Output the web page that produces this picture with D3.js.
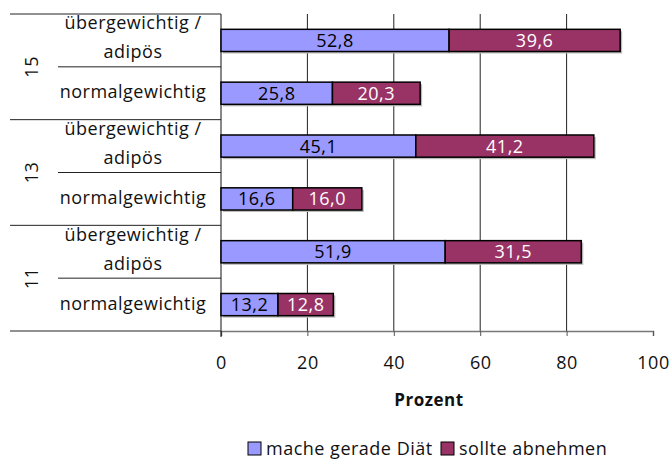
<!DOCTYPE html>
<html>
<head>
<meta charset="utf-8">
<script src="https://cdn.jsdelivr.net/npm/d3@7"></script>
<style>
  body { margin: 0; background: #fff; }
  text { font-family: "Open Sans", sans-serif; letter-spacing: 0.5px; }
</style>
</head>
<body>
<div id="dataviz"></div>
<script>
// data, top group first
var ages = ["15", "13", "11"];
var weightClasses = ["übergewichtig / adipös", "normalgewichtig"];
var seriesNames = ["mache gerade Diät", "sollte abnehmen"];
var diaet = [52.8, 25.8, 45.1, 16.6, 51.9, 13.2];
var abnehmen = [39.6, 20.3, 41.2, 16.0, 31.5, 12.8];
var xTicks = [0, 20, 40, 60, 80, 100];

var colors = ["#9999ff", "#993366"];
var textColors = ["#000", "#fff"];

var width = 672, height = 459;
var margin = {top: 14, left: 221, right: 19, bottom: 128};
var innerW = width - margin.left - margin.right;
var innerH = height - margin.top - margin.bottom;
var fs = 18;

var svg = d3.select("#dataviz")
  .append("svg")
    .attr("width", width)
    .attr("height", height);

var g = svg.append("g")
  .attr("transform", "translate(" + margin.left + "," + margin.top + ")");

// build rows
var rows = [];
ages.forEach(function(a, i) {
  weightClasses.forEach(function(w, j) {
    var k = i * 2 + j;
    rows.push({key: a + "|" + w, age: a, cls: w, vals: [diaet[k], abnehmen[k]]});
  });
});

var x = d3.scaleLinear().domain([0, 100]).range([0, innerW]);
var y = d3.scaleBand()
  .domain(rows.map(function(d) { return d.key; }))
  .range([0, innerH])
  .paddingInner(0.58)
  .paddingOuter(0.29);

var step = y.step();

// gridlines (not at 0, not at 100)
g.selectAll(".grid")
  .data(xTicks.filter(function(t) { return t > 0 && t < 100; }))
  .enter().append("line")
    .attr("x1", function(d) { return x(d); })
    .attr("x2", function(d) { return x(d); })
    .attr("y1", 0)
    .attr("y2", innerH)
    .attr("stroke", "#222")
    .attr("stroke-width", 1);

// x axis
var xAxis = g.append("g")
  .attr("transform", "translate(0," + innerH + ")")
  .call(d3.axisBottom(x).tickValues(xTicks).tickSize(5).tickPadding(20));
xAxis.select(".domain").attr("stroke", "#777").attr("stroke-width", 1.5);
xAxis.selectAll(".tick line").attr("stroke", "#555");
xAxis.selectAll("text")
  .attr("font-size", fs)
  .attr("fill", "#111")
  .style("font-family", "'Open Sans', sans-serif")
  .style("letter-spacing", "0.5px");

// left axis line
g.append("line")
  .attr("x1", 0).attr("x2", 0)
  .attr("y1", 0).attr("y2", innerH + 6)
  .attr("stroke", "#111");

// stacked bars
var stack = [];
rows.forEach(function(r) {
  var x0 = 0;
  r.vals.forEach(function(v, s) {
    stack.push({key: r.key, s: s, x0: x0, x1: x0 + v, v: v});
    x0 += v;
  });
});

// shadow
g.selectAll(".shadow")
  .data(rows)
  .enter().append("rect")
    .attr("x", 2)
    .attr("y", function(d) { return y(d.key) + 2; })
    .attr("width", function(d) { return x(d.vals[0] + d.vals[1]); })
    .attr("height", y.bandwidth())
    .attr("fill", "#bbb");

g.selectAll(".seg")
  .data(stack)
  .enter().append("rect")
    .attr("x", function(d) { return x(d.x0); })
    .attr("y", function(d) { return y(d.key); })
    .attr("width", function(d) { return x(d.x1) - x(d.x0); })
    .attr("height", y.bandwidth())
    .attr("fill", function(d) { return colors[d.s]; })
    .attr("stroke", "#000")
    .attr("stroke-width", 1.5);

g.selectAll(".lbl")
  .data(stack)
  .enter().append("text")
    .attr("x", function(d) { return x((d.x0 + d.x1) / 2); })
    .attr("y", function(d) { return y(d.key) + y.bandwidth() / 2; })
    .attr("dy", "0.36em")
    .attr("text-anchor", "middle")
    .attr("font-size", fs)
    .attr("fill", function(d) { return textColors[d.s]; })
    .text(function(d) { return d3.format(".1f")(d.v).replace(".", ","); });

// category table on the left
var outerX = 10 - margin.left, innerX = 58 - margin.left, labelX = 133 - margin.left;

rows.forEach(function(r, i) {
  var top = i * step;
  var isFirst = i % 2 === 0;
  g.append("line")
    .attr("x1", isFirst ? outerX : innerX).attr("x2", 0)
    .attr("y1", top).attr("y2", top)
    .attr("stroke", "#222");
  var cy = top + step / 2;
  var t = g.append("text")
    .attr("x", labelX)
    .attr("text-anchor", "middle")
    .attr("font-size", fs)
    .attr("fill", "#111");
  if (r.cls.indexOf("/") > 0) {
    t.append("tspan").attr("x", labelX).attr("y", cy - 11).text("übergewichtig /");
    t.append("tspan").attr("x", labelX).attr("y", cy + 18).text("adipös");
  } else {
    t.attr("y", cy + 5).text(r.cls);
  }
});
g.append("line")
  .attr("x1", outerX).attr("x2", 0)
  .attr("y1", innerH).attr("y2", innerH)
  .attr("stroke", "#222");

ages.forEach(function(a, i) {
  var cy = (i * 2 + 1) * step;
  g.append("text")
    .attr("transform", "translate(" + (38 - margin.left) + "," + cy + ") rotate(-90)")
    .attr("text-anchor", "middle")
    .attr("font-size", fs)
    .attr("fill", "#111")
    .text(a);
});

// axis title
svg.append("text")
  .attr("x", 429)
  .attr("y", 406)
  .attr("text-anchor", "middle")
  .attr("font-size", 17)
  .attr("font-weight", "bold")
  .attr("fill", "#111")
  .text("Prozent");

// legend
var legendX = [248, 441];
var legend = svg.selectAll(".legend")
  .data(seriesNames)
  .enter().append("g")
    .attr("transform", function(d, i) { return "translate(" + legendX[i] + ",442)"; });
legend.append("rect")
  .attr("width", 13).attr("height", 13)
  .attr("fill", function(d, i) { return colors[i]; })
  .attr("stroke", "#000");
legend.append("text")
  .attr("x", 18)
  .attr("y", 13)
  .attr("font-size", fs)
  .attr("fill", "#111")
  .text(function(d) { return d; });
</script>
</body>
</html>
